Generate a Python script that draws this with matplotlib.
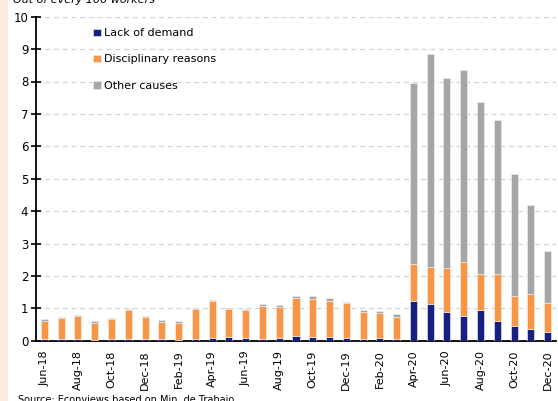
import matplotlib
matplotlib.use("Agg")
import matplotlib.pyplot as plt
from matplotlib.patches import Rectangle
import numpy as np

months = ["Jun-18", "Jul-18", "Aug-18", "Sep-18", "Oct-18", "Nov-18", "Dec-18",
          "Jan-19", "Feb-19", "Mar-19", "Apr-19", "May-19", "Jun-19", "Jul-19",
          "Aug-19", "Sep-19", "Oct-19", "Nov-19", "Dec-19", "Jan-20", "Feb-20",
          "Mar-20", "Apr-20", "May-20", "Jun-20", "Jul-20", "Aug-20", "Sep-20",
          "Oct-20", "Nov-20", "Dec-20"]

# Dismissals per 100 workers, by cause
lack_of_demand = [0.05, 0.05, 0.05, 0.02, 0.05, 0.05, 0.05, 0.05, 0.02, 0.05,
                  0.09, 0.12, 0.09, 0.05, 0.09, 0.15, 0.12, 0.12, 0.09, 0.04,
                  0.08, 0.04, 1.22, 1.12, 0.90, 0.77, 0.95, 0.62, 0.44, 0.37,
                  0.27]
disciplinary = [0.56, 0.64, 0.72, 0.54, 0.61, 0.90, 0.69, 0.54, 0.54, 0.93,
                1.14, 0.86, 0.85, 1.03, 0.96, 1.18, 1.16, 1.10, 1.06, 0.85,
                0.77, 0.69, 1.16, 1.15, 1.34, 1.67, 1.11, 1.43, 0.93, 1.07,
                0.88]
other_causes = [0.05, 0.04, 0.03, 0.04, 0.04, 0.03, 0.03, 0.04, 0.04, 0.03,
                0.04, 0.04, 0.03, 0.05, 0.05, 0.05, 0.10, 0.09, 0.04, 0.05,
                0.06, 0.08, 5.57, 6.58, 5.88, 5.91, 5.31, 4.75, 3.78, 2.75,
                1.61]

c_demand = "#172080"
c_disc = "#f79646"
c_other = "#a6a6a6"

fig = plt.figure(figsize=(5.58, 4.01), dpi=100)
fig.patches.append(Rectangle((0, 0), 8 / 558, 1, transform=fig.transFigure,
                             facecolor="#fdebdf", edgecolor="none", zorder=0))

ax = fig.add_axes([36 / 558, 60.3 / 401, 520 / 558, 324 / 401])
x = np.arange(len(months))
w = 0.42
d = np.array(lack_of_demand)
s = np.array(disciplinary)
o = np.array(other_causes)
kw = dict(width=w, edgecolor="#f4f4f4", linewidth=0.4, zorder=3)
ax.bar(x, d, color=c_demand, label="Lack of demand", **kw)
ax.bar(x, s, bottom=d, color=c_disc, label="Disciplinary reasons", **kw)
ax.bar(x, o, bottom=d + s, color=c_other, label="Other causes", **kw)

ax.set_xlim(-0.5, len(months) - 0.5)
ax.set_ylim(0, 10)
ax.set_yticks(range(0, 11))
ax.yaxis.grid(True, linestyle=(0, (4, 3)), color="#d4d4d4", linewidth=0.9, zorder=0)
ax.set_axisbelow(True)

ax.set_xticks(x[::2])
ax.set_xticklabels(months[::2], rotation=90, fontsize=8)
ax.tick_params(axis="x", length=0, pad=7)
ax.tick_params(axis="y", direction="inout", length=7, width=1.2, labelsize=8.5, pad=2)

for side in ("top", "right"):
    ax.spines[side].set_visible(False)
for side in ("left", "bottom"):
    ax.spines[side].set_linewidth(1.3)
    ax.spines[side].set_color("black")

leg = ax.legend(loc="upper left", bbox_to_anchor=(0.09, 0.995), frameon=False,
                fontsize=8, handlelength=0.7, handleheight=0.7, handletextpad=0.3,
                labelspacing=1.45)

fig.text(13 / 558, 1 - 3 / 401, "Out of every 100 workers", fontsize=8,
         style="italic", va="baseline", ha="left")
fig.text(18 / 558, 1 - 395 / 401, "Source: Econviews based on Min. de Trabajo",
         fontsize=7, va="top", ha="left")

fig.savefig("out.png", dpi=100)
